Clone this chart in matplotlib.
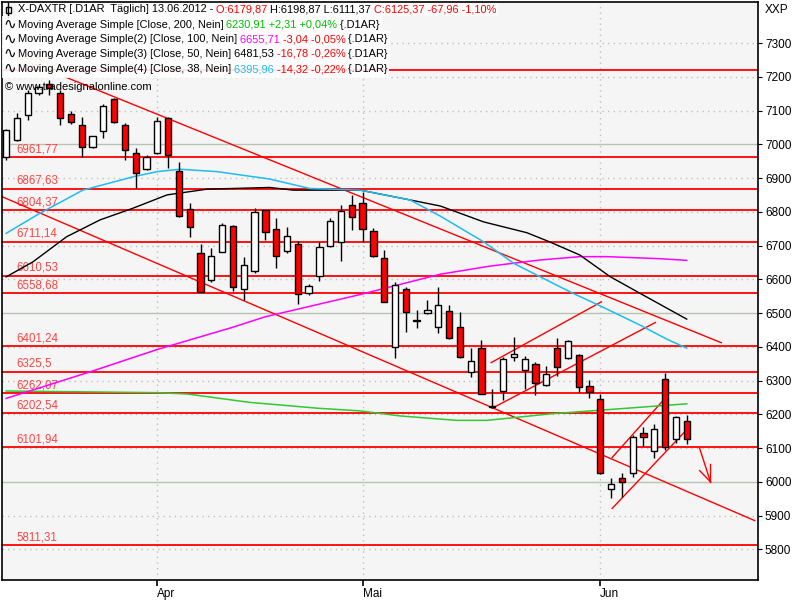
import matplotlib
matplotlib.use('Agg')
import matplotlib.pyplot as plt
from matplotlib.offsetbox import TextArea, HPacker, AnchoredOffsetbox
from matplotlib.lines import Line2D

plt.rcParams['font.family'] = ['Liberation Sans', 'DejaVu Sans']

# trading day index, 0 = 02.04.2012
days = list(range(-14, 50))
opens = [6961, 7013, 7087, 7153, 7180, 7151, 7089, 7057, 6993, 7040, 7133, 7057, 6973, 6926,
         6973, 7079, 6922, 6807, 6679, 6598, 6682, 6758, 6570, 6625, 6805, 6748, 6685, 6704,
         6560, 6610, 6699, 6711, 6819, 6825, 6742, 6662, 6398, 6570, 6476, 6499, 6458, 6506,
         6458, 6324, 6397, 6223, 6270, 6371, 6331, 6348, 6287, 6397, 6368, 6376, 6285, 6244,
         5978, 6010, 6027, 6144, 6092, 6304, 6126, 6179.87]
highs = [7045, 7092, 7161, 7179, 7190, 7161, 7099, 7082, 7024, 7119, 7136, 7064, 6988, 6968,
         7082, 7082, 6948, 6825, 6704, 6692, 6766, 6760, 6667, 6810, 6806, 6781, 6756, 6713,
         6586, 6711, 6783, 6820, 6850, 6859, 6751, 6687, 6593, 6576, 6509, 6539, 6578, 6524,
         6504, 6395, 6420, 6275, 6369, 6428, 6373, 6356, 6343, 6425, 6419, 6378, 6301, 6260,
         6010, 6027, 6139, 6163, 6171, 6323, 6195, 6198.87]
lows = [6953, 7010, 7072, 7146, 7146, 7057, 7060, 6961, 6988, 7018, 7063, 6953, 6869, 6924,
        6971, 6929, 6785, 6726, 6562, 6593, 6680, 6566, 6539, 6618, 6717, 6632, 6677, 6527,
        6553, 6596, 6695, 6655, 6746, 6711, 6665, 6532, 6366, 6445, 6456, 6496, 6442, 6422,
        6366, 6309, 6260, 6218, 6242, 6359, 6274, 6257, 6284, 6313, 6363, 6267, 6247, 6023,
        5953, 5956, 6015, 6106, 6069, 6094, 6114, 6111.37]
closes = [7042, 7077, 7151, 7169, 7167, 7077, 7067, 6991, 7024, 7113, 7065, 6983, 6914, 6961,
          7069, 6968, 6787, 6754, 6562, 6669, 6761, 6576, 6642, 6798, 6741, 6669, 6728, 6555,
          6580, 6695, 6772, 6803, 6784, 6748, 6669, 6532, 6583, 6504, 6478, 6509, 6524, 6425,
          6371, 6358, 6260, 6224, 6363, 6379, 6363, 6293, 6318, 6341, 6417, 6280, 6267, 6027,
          5993, 5998, 6132, 6134, 6155, 6102, 6191, 6125.37]

# moving averages
ma200_x = [-14, 0, 2.8, 8.6, 11.6, 14.8, 18.8, 22.5, 27.7, 30.5, 32.7, 36.3, 49]
ma200_y = [6269, 6264, 6260, 6235, 6227, 6218, 6210, 6195, 6182, 6182, 6189, 6201, 6231]
ma100_x = [-14, -6.2, 0, 7, 10, 18.8, 26.2, 30.8, 35.4, 39.1, 41.6, 46.5, 49]
ma100_y = [6247, 6326, 6392, 6458, 6489, 6555, 6615, 6639, 6657, 6667, 6667, 6661, 6656]
ma50_x = [-14, -11.5, -8.4, -5.3, -2.3, 0.9, 4.6, 10.4, 12.6, 18.8, 23.4, 26.2, 30.2, 34.2,
          36.3, 39.1, 41.9, 44.7, 49]
ma50_y = [6607, 6652, 6726, 6776, 6810, 6850, 6867, 6872, 6864, 6864, 6835, 6817, 6770, 6738,
          6711, 6672, 6608, 6558, 6482]
ma38_x = [-14, -10.9, -6.9, -2.2, 0, 2.1, 5.5, 10.4, 14.1, 18.8, 23.4, 26.2, 30.2, 33, 35.4,
          38.5, 41, 44.7, 47.2, 49]
ma38_y = [6736, 6795, 6864, 6904, 6919, 6926, 6919, 6897, 6869, 6864, 6835, 6787, 6711, 6647,
          6608, 6558, 6521, 6464, 6422, 6396]

levels = [7219.73, 6961.77, 6867.63, 6804.37, 6711.14, 6610.53, 6558.68, 6401.24, 6325.5,
          6262.07, 6202.54, 6101.94, 5811.31]

# trend lines: (x0, y0, x1, y1)
trends = [(-8.5, 7199, 52.2, 6412),
          (-14.4, 6845, 55.3, 5885),
          (30.9, 6353, 41.1, 6533),
          (31.0, 6218, 46.1, 6472),
          (42.1, 6072, 46.9, 6244),
          (42.1, 5921, 48.9, 6151),
          (50.2, 6099, 51.2, 6000),
          (50.2, 6033, 51.2, 6000),
          (51.2, 6053, 51.2, 6000)]

month_pos = [0, 19, 41]
month_lbl = ['Apr', 'Mai', 'Jun']
yticks = list(range(5800, 7400, 100))

fig = plt.figure(figsize=(8, 6), dpi=100)
ax = fig.add_axes([2/800, 20/600, 756/800, 578/600])
ax.set_facecolor('#f5f5f5')
ax.set_xlim(-14.38, 55.6)
ax.set_ylim(5709, 7421.5)

for v in yticks:
    if v % 500 == 0:
        ax.axhline(v, color='#b4c6b0', lw=1, zorder=1)
    else:
        ax.axhline(v, color='#b8c4b8', lw=1, ls=(0, (1, 3)), zorder=1)
for m in month_pos:
    ax.axvline(m, color='#b8c4b8', lw=1, ls=(0, (1, 3)), zorder=1)

for lv in levels:
    ax.axhline(lv, color='#ff0000', lw=1.3, zorder=2)
    ax.annotate(f"{lv}".replace('.', ','), (-13.08, lv), xytext=(0, 1.5),
                textcoords='offset points', color='#ff4444', fontsize=8.3,
                va='bottom', ha='left', zorder=2)

for x0, y0, x1, y1 in trends:
    ax.plot([x0, x1], [y0, y1], color='#ff0000', lw=1, zorder=2)

ax.plot(ma200_x, ma200_y, color='#32c832', lw=1.1, zorder=3)
ax.plot(ma100_x, ma100_y, color='#ff00ff', lw=1.1, zorder=3)
ax.plot(ma50_x, ma50_y, color='black', lw=1, zorder=3)
ax.plot(ma38_x, ma38_y, color='#1ebcf0', lw=1.1, zorder=3)

ax.vlines(days, lows, highs, color='black', lw=1, zorder=4)
bottoms = [min(o, c) for o, c in zip(opens, closes)]
heights = [max(abs(c - o), 2) for o, c in zip(opens, closes)]
fills = ['white' if c >= o else '#ff0000' for o, c in zip(opens, closes)]
ax.bar(days, heights, bottom=bottoms, width=0.58, color=fills, edgecolor='black',
       lw=1, zorder=5)

ax.yaxis.tick_right()
ax.set_yticks(yticks)
ax.set_yticklabels([str(v) for v in yticks], fontsize=8.5)
ax.set_xticks(month_pos)
ax.set_xticklabels(month_lbl, fontsize=8.5, ha='left')
ax.tick_params(axis='y', direction='out', length=3, pad=2, width=0.8)
ax.tick_params(axis='x', direction='out', length=4, pad=2, width=1.2)
for s in ax.spines.values():
    s.set_linewidth(1.2)
    s.set_color('black')

fig.text(765/800, 1 - 10/600, 'XXP', fontsize=8.5, va='center', ha='left')

# legend rows
red = '#ff0000'
rows = [
    [("X-DAXTR [.D1AR  Täglich] 13.06.2012 -", 'black'), (" O:6179,87", red),
     (" H:6198,87 L:6111,37", 'black'), (" C:6125,37 -67,96 -1,10%", red)],
    [("Moving Average Simple [Close, 200, Nein]", 'black'), (" 6230,91 +2,31 +0,04%", '#00c000'),
     (" {.D1AR}", 'black')],
    [("Moving Average Simple(2) [Close, 100, Nein]", 'black'), (" 6655,71", '#ff00ff'),
     (" -3,04 -0,05%", red), (" {.D1AR}", 'black')],
    [("Moving Average Simple(3) [Close, 50, Nein] 6481,53", 'black'),
     (" -16,78 -0,26%", red), (" {.D1AR}", 'black')],
    [("Moving Average Simple(4) [Close, 38, Nein]", 'black'), (" 6395,96", '#1ebcf0'),
     (" -14,32 -0,22%", red), (" {.D1AR}", 'black')],
]
row_y = [9.5, 24.5, 39.5, 54, 69]
for i, (parts, yc) in enumerate(zip(rows, row_y)):
    texts = [TextArea(t, textprops=dict(color=c, fontsize=7.9)) for t, c in parts]
    line = HPacker(children=texts, pad=0, sep=0, align='baseline')
    if i > 0:
        icon = TextArea("∿", textprops=dict(color='black', fontsize=11))
        line = HPacker(children=[icon, line], pad=0, sep=1, align='center')
    xl = 16 if i == 0 else 2
    ab = AnchoredOffsetbox(loc='center left', child=line, pad=0.12, borderpad=0,
                           bbox_to_anchor=(xl/800, 1 - yc/600),
                           bbox_transform=fig.transFigure, frameon=True)
    ab.patch.set_facecolor('white')
    ab.patch.set_edgecolor('none')
    ab.patch.set_alpha(0.88)
    fig.add_artist(ab)

# small candle icon in the header
fig.add_artist(Line2D([8/800, 8/800], [1 - 3/600, 1 - 17/600], color='black', lw=1,
                      transform=fig.transFigure))
fig.add_artist(plt.Rectangle((5.5/800, 1 - 13/600), 5/800, 6/600, facecolor='white',
                             edgecolor='black', lw=1, transform=fig.transFigure))

fig.text(5/800, 1 - 87/600, '© www.tradesignalonline.com', fontsize=8, va='center',
         ha='left', color='black')

fig.savefig('out.png', dpi=100, facecolor='white')
